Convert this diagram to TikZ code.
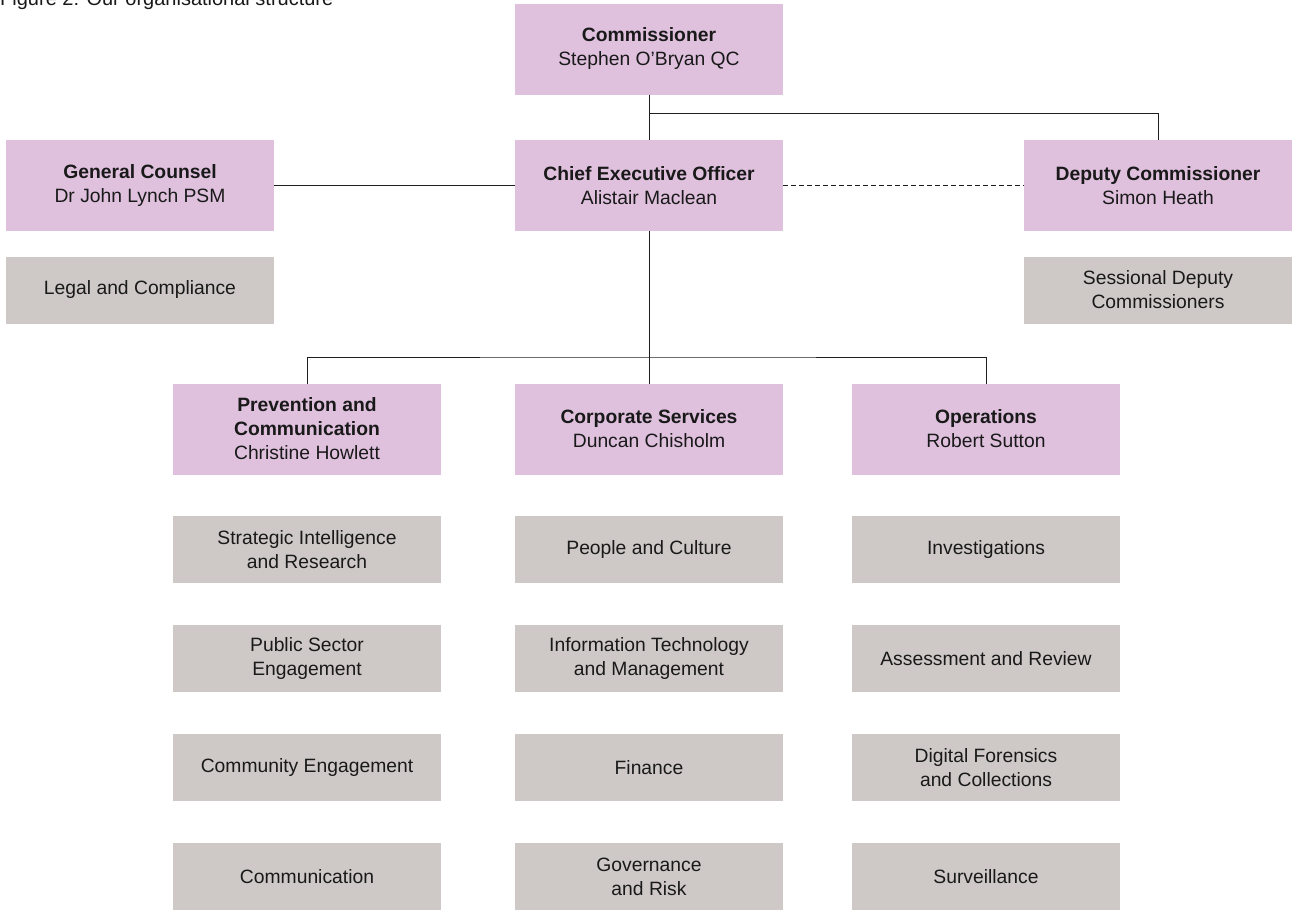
\documentclass[tikz,border=0pt]{standalone}
\usepackage{fontspec}
\setmainfont{Liberation Sans}
\definecolor{pinkbox}{RGB}{223,193,222}
\definecolor{graybox}{RGB}{206,201,198}
\definecolor{linec}{RGB}{30,30,30}
\begin{document}
\begin{tikzpicture}[x=1pt,y=-1pt,
  box/.style={minimum width=268pt,inner sep=0pt,outer sep=0pt,align=center,
    font=\fontsize{19.3}{24}\selectfont,text=black!90},
  head/.style={box,fill=pinkbox,minimum height=91pt},
  unit/.style={box,fill=graybox,minimum height=67pt},
  conn/.style={draw=linec,line width=0.8pt}]
\useasboundingbox (0,0) rectangle (1292,910);
\clip (0,0) rectangle (1292,910);
\node[anchor=base west,inner sep=0pt,font=\fontsize{20}{24}\selectfont,text=black!90] (cap) at (0,5.5) {Figure 2: Our organisational structure};
% heads
\node[head] (comm) at (649,49) {\textbf{Commissioner}\\Stephen O’Bryan QC};
\node[head] (gc) at (140,185.5) {\textbf{General Counsel}\\Dr John Lynch PSM};
\node[head] (ceo) at (649,185.5) {\textbf{Chief Executive Officer}\\Alistair Maclean};
\node[head] (dep) at (1158,185.5) {\textbf{Deputy Commissioner}\\Simon Heath};
\node[unit] (legal) at (140,290) {Legal and Compliance};
\node[unit] (sess) at (1158,290) {Sessional Deputy\\Commissioners};
\node[head] (prev) at (307,429) {\textbf{Prevention and}\\\textbf{Communication}\\Christine Howlett};
\node[head] (corp) at (649,429) {\textbf{Corporate Services}\\Duncan Chisholm};
\node[head] (ops) at (986,429) {\textbf{Operations}\\Robert Sutton};
% units
\node[unit] (p1) at (307,549.5) {Strategic Intelligence\\and Research};
\node[unit] (p2) at (307,658.5) {Public Sector\\Engagement};
\node[unit] (p3) at (307,767.5) {Community Engagement};
\node[unit] (p4) at (307,876.5) {Communication};
\node[unit] (c1) at (649,549.5) {People and Culture};
\node[unit] (c2) at (649,658.5) {Information Technology\\and Management};
\node[unit] (c3) at (649,767.5) {Finance};
\node[unit] (c4) at (649,876.5) {Governance\\and Risk};
\node[unit] (o1) at (986,549.5) {Investigations};
\node[unit] (o2) at (986,658.5) {Assessment and Review};
\node[unit] (o3) at (986,767.5) {Digital Forensics\\and Collections};
\node[unit] (o4) at (986,876.5) {Surveillance};
% connectors
\coordinate (j1) at (649,113);
\coordinate (j2) at (649,357);
\draw[conn] (comm.south) -- (ceo.north);
\draw[conn] (j1) -| (dep.north);
\draw[conn] (gc.east) -- (ceo.west);
\draw[conn,dash pattern=on 5pt off 3pt] (ceo.east) -- (dep.west);
\draw[conn] (ceo.south) -- (corp.north);
\draw[conn] (prev.north) |- (j2) -| (ops.north);
\end{tikzpicture}
\end{document}
